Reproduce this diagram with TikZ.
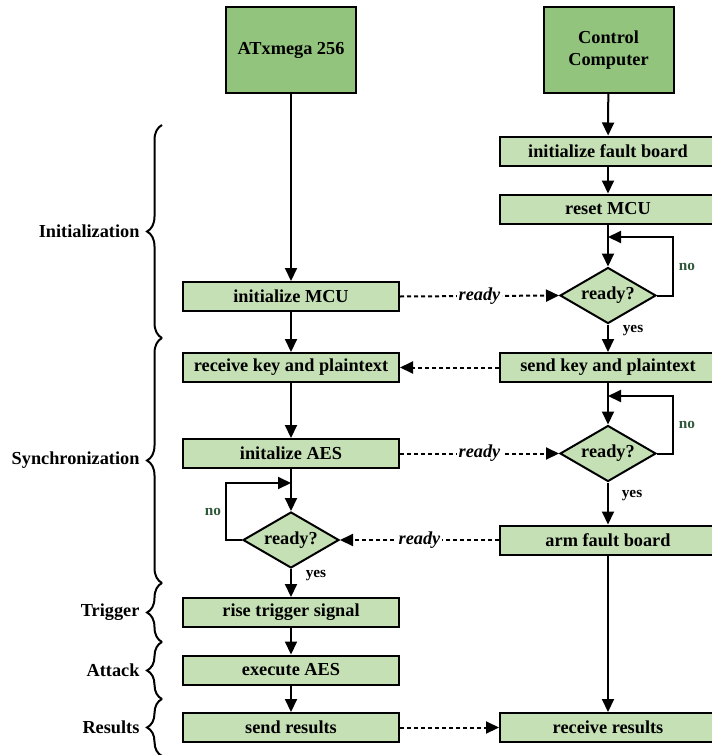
\documentclass[tikz,border=0pt]{standalone}
\usepackage{fontspec}
\setmainfont{Liberation Serif}
\usetikzlibrary{arrows.meta,shapes.geometric,decorations.pathreplacing}
\definecolor{hdrgreen}{RGB}{147,196,125}
\definecolor{boxgreen}{RGB}{197,224,180}
\definecolor{nogreen}{RGB}{48,88,58}
\tikzset{
  hdr/.style={draw=black, line width=2pt, fill=hdrgreen, minimum width=130pt, minimum height=86pt, inner sep=0pt, align=center, font=\fontsize{18.3}{22}\selectfont\bfseries},
  stepbox/.style={draw=black, line width=2pt, fill=boxgreen, minimum width=216pt, minimum height=29pt, inner sep=0pt, font=\fontsize{18.3}{22}\selectfont\bfseries},
  decide/.style={draw=black, line width=2pt, fill=boxgreen, diamond, aspect=1.73, minimum width=96pt, minimum height=56pt, inner sep=0pt, font=\fontsize{18.3}{22}\selectfont\bfseries},
  flow/.style={line width=2pt, -{Triangle[length=13pt,width=12pt]}},
  msg/.style={line width=2pt, dash pattern=on 4pt off 3pt, -{Triangle[length=13pt,width=12pt]}},
  msglbl/.style={fill=white, inner sep=1.5pt, font=\fontsize{18.3}{22}\selectfont\bfseries\itshape},
  nolbl/.style={text=nogreen, font=\fontsize{15.3}{18}\selectfont\bfseries},
  yeslbl/.style={font=\fontsize{15.3}{18}\selectfont\bfseries},
  phase/.style={anchor=east, font=\fontsize{18.3}{22}\selectfont\bfseries},
  brc/.style={line width=2pt, decorate, decoration={brace, amplitude=15pt, aspect=0.5}}
}
\begin{document}
\begin{tikzpicture}[x=1pt, y=-1pt]
\clip (0,0) rectangle (712,755);
\fill[white] (0,0) rectangle (712,755);

% headers
\node[hdr] (atx) at (291,50) {ATxmega 256};
\node[hdr] (cc) at (608.5,50) {Control\\Computer};

% left column
\node[stepbox] (imcu) at (291,296.5) {initialize MCU};
\node[stepbox] (rkey) at (291,367.5) {receive key and plaintext};
\node[stepbox] (iaes) at (291,453.5) {initalize AES};
\node[decide] (dl) at (291,540) {ready?};
\node[stepbox] (rise) at (291,612.5) {rise trigger signal};
\node[stepbox] (exec) at (291,670) {execute AES};
\node[stepbox] (sres) at (291,727.5) {send results};

% right column
\node[stepbox] (ifb) at (608,151) {initialize fault board};
\node[stepbox] (rmcu) at (608,209) {reset MCU};
\node[decide] (d1) at (608,295.5) {ready?};
\node[stepbox] (skey) at (608,367.5) {send key and plaintext};
\node[decide] (d2) at (608,453.5) {ready?};
\node[stepbox] (arm) at (608,540) {arm fault board};
\node[stepbox] (rres) at (608,727.5) {receive results};

% loop corners
\coordinate (l1a) at (673,295.5);
\coordinate (l1b) at (673,237);
\coordinate (l1c) at (608,237);
\coordinate (l2a) at (673,453.5);
\coordinate (l2b) at (673,396);
\coordinate (l2c) at (608,396);
\coordinate (l3a) at (226,540);
\coordinate (l3b) at (226,483);
\coordinate (l3c) at (291,483);

% left flow
\draw[flow] (atx) -- (imcu);
\draw[flow] (imcu) -- (rkey);
\draw[flow] (rkey) -- (iaes);
\draw[flow] (iaes) -- (dl);
\draw[flow] (dl) -- (rise);
\draw[flow] (rise) -- (exec);
\draw[flow] (exec) -- (sres);

% right flow
\draw[flow] (cc) -- (ifb);
\draw[flow] (ifb) -- (rmcu);
\draw[flow] (rmcu) -- (d1);
\draw[flow] (d1) -- (skey);
\draw[flow] (skey) -- (d2);
\draw[flow] (d2) -- (arm);
\draw[flow] (arm) -- (rres);

% loops
\draw[flow] (d1.east) -- (l1a) -- (l1b) -- (l1c);
\draw[flow] (d2.east) -- (l2a) -- (l2b) -- (l2c);
\draw[flow] (dl.west) -- (l3a) -- (l3b) -- (l3c);

% yes / no
\node[nolbl] (no1) at (687,267) {no};
\node[nolbl] (no2) at (687,425) {no};
\node[nolbl] (no3) at (213,512) {no};
\node[yeslbl] (yes1) at (633,331) {yes};
\node[yeslbl] (yes2) at (632,496) {yes};
\node[yeslbl] (yes3) at (316,576) {yes};

% messages
\draw[msg] (imcu.east) -- node[msglbl] {ready} (d1.west);
\draw[msg] (skey.west) -- (rkey.east);
\draw[msg] (iaes.east) -- node[msglbl] {ready} (d2.west);
\draw[msg] (arm.west) -- node[msglbl] {ready} (dl.east);
\draw[msg] (sres.east) -- (rres.west);

% phase braces
\coordinate (b0) at (162,125);
\coordinate (b1) at (162,338);
\coordinate (b2) at (162,583);
\coordinate (b3) at (162,642);
\coordinate (b4) at (162,699);
\coordinate (b5) at (162,756);
\draw[brc] (b1) -- (b0);
\draw[brc] (b2) -- (b1);
\draw[brc] (b3) -- (b2);
\draw[brc] (b4) -- (b3);
\draw[brc] (b5) -- (b4);
\node[phase] (ph1) at (143,231.5) {Initialization};
\node[phase] (ph2) at (143,460.5) {Synchronization};
\node[phase] (ph3) at (143,612.5) {Trigger};
\node[phase] (ph4) at (143,670.5) {Attack};
\node[phase] (ph5) at (143,727.5) {Results};
\end{tikzpicture}
\end{document}
